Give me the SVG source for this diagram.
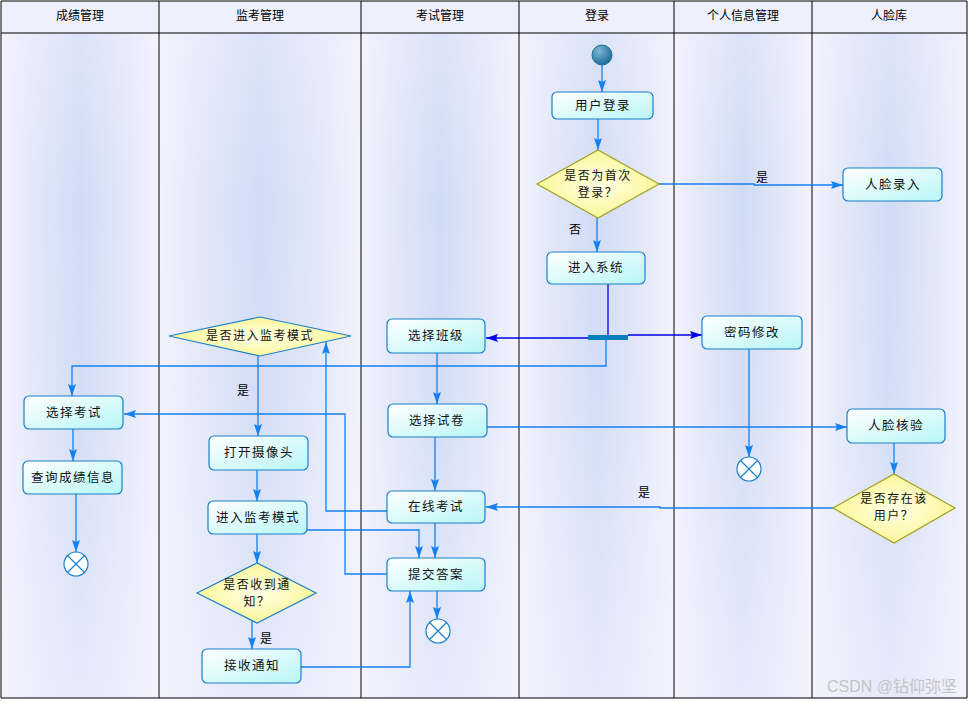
<svg xmlns="http://www.w3.org/2000/svg" width="969" height="702" viewBox="0 0 969 702">
<defs>
<linearGradient id="laneBg" x1="0" y1="0" x2="1" y2="0">
<stop offset="0" stop-color="#f3f3fd"/>
<stop offset="0.18" stop-color="#e4e9f9"/>
<stop offset="0.5" stop-color="#d0dbf5"/>
<stop offset="0.82" stop-color="#e4e9f9"/>
<stop offset="1" stop-color="#f3f3fd"/>
</linearGradient>
<linearGradient id="laneFade" x1="0" y1="0" x2="0" y2="1">
<stop offset="0" stop-color="#f3f3fd" stop-opacity="0.35"/>
<stop offset="0.25" stop-color="#f3f3fd" stop-opacity="0"/>
<stop offset="0.55" stop-color="#f3f3fd" stop-opacity="0.1"/>
<stop offset="1" stop-color="#f3f3fd" stop-opacity="0.6"/>
</linearGradient>
<linearGradient id="nodeFill" x1="0" y1="0" x2="1" y2="1">
<stop offset="0" stop-color="#ffffff"/>
<stop offset="1" stop-color="#b8f6f6"/>
</linearGradient>
<radialGradient id="decFill" cx="0.5" cy="0.5" r="0.6">
<stop offset="0" stop-color="#ffffe6"/>
<stop offset="1" stop-color="#fbf58a"/>
</radialGradient>
<radialGradient id="startFill" cx="0.35" cy="0.3" r="0.7">
<stop offset="0" stop-color="#7fb8d6"/>
<stop offset="1" stop-color="#1f6f99"/>
</radialGradient>
<marker id="arr" viewBox="0 0 12 10" refX="12" refY="5" markerWidth="12" markerHeight="10" markerUnits="userSpaceOnUse" orient="auto">
<path d="M0,1 L12,5 L0,9 L2,5 Z" fill="#1580f0"/>
</marker>
<marker id="arrD" viewBox="0 0 12 10" refX="12" refY="5" markerWidth="12" markerHeight="10" markerUnits="userSpaceOnUse" orient="auto">
<path d="M0,1 L12,5 L0,9 L2,5 Z" fill="#0000ee"/>
</marker>
</defs>
<style>
.lane{fill:url(#laneBg);stroke:none}
.fade{fill:url(#laneFade);stroke:none}
.hdr{fill:#eef0fb}
.sep{stroke:#000;stroke-width:1;fill:none}
.ht{font-family:"Noto Sans CJK SC","Liberation Sans",sans-serif;font-size:12px;fill:#000;text-anchor:middle}
.node rect{fill:url(#nodeFill);stroke:#1a80c8;stroke-width:1.2}
.dec polygon{fill:url(#decFill);stroke:#1a80c8;stroke-width:1.2}
.dec.olive polygon{stroke:#a0a020}
.t{font-family:"Noto Sans CJK SC","Liberation Sans",sans-serif;font-size:12.5px;fill:#111;text-anchor:middle;letter-spacing:1.5px}
.t2{font-family:"Noto Sans CJK SC","Liberation Sans",sans-serif;font-size:12px;fill:#111;text-anchor:middle;letter-spacing:1.5px}
.lbl{font-family:"Noto Sans CJK SC","Liberation Sans",sans-serif;font-size:12px;fill:#000;text-anchor:middle}
.end circle{fill:#fff;stroke:#1a80c8;stroke-width:1.2}
.end path{stroke:#1a80c8;stroke-width:1.2;fill:none}
.c{fill:none;stroke:#1580f0;stroke-width:1.3;marker-end:url(#arr)}
.cd{fill:none;stroke:#0000ee;stroke-width:1.3;marker-end:url(#arrD)}
.cdn{fill:none;stroke:#0000ee;stroke-width:1.3}
</style>
<rect x="0" y="0" width="969" height="702" fill="#ffffff"/>
<g id="lanes">
<rect class="lane" x="1" y="33" width="158" height="665"/>
<rect class="lane" x="159" y="33" width="202" height="665"/>
<rect class="lane" x="361" y="33" width="158" height="665"/>
<rect class="lane" x="519" y="33" width="155" height="665"/>
<rect class="lane" x="674" y="33" width="138" height="665"/>
<rect class="lane" x="812" y="33" width="155" height="665"/>
<rect class="fade" x="1" y="33" width="966" height="665"/>
<rect class="hdr" x="1" y="1" width="966" height="32"/>
<path class="sep" d="M1,1 H967 V698 H1 Z M1,33 H967 M159,1 V698 M361,1 V698 M519,1 V698 M674,1 V698 M812,1 V698"/>
<text class="ht" x="80" y="20">成绩管理</text>
<text class="ht" x="260" y="20">监考管理</text>
<text class="ht" x="440" y="20">考试管理</text>
<text class="ht" x="597" y="20">登录</text>
<text class="ht" x="743" y="20">个人信息管理</text>
<text class="ht" x="889" y="20">人脸库</text>
</g>
<g id="connectors">
<path class="c" d="M602,65 V92"/>
<path class="c" d="M598,119 V150"/>
<path class="c" d="M597,218 V252"/>
<path class="c" d="M659,184 H754 V185 H843"/>
<path class="cdn" d="M608,284 V335"/>
<path class="cd" d="M590,338 H486"/>
<path class="cd" d="M628,335 H702"/>
<path class="c" d="M606,340 V366 H72 V396"/>
<path class="c" d="M749,349 V457"/>
<path class="c" d="M437,353 V404"/>
<path class="c" d="M487,427 H847"/>
<path class="c" d="M894,443 V474"/>
<path class="c" d="M833,508 H660 V507 H486"/>
<path class="c" d="M435,437 V491"/>
<path class="c" d="M435,523 V558"/>
<path class="c" d="M387,511 H326 V342"/>
<path class="c" d="M387,574 H345 V414 H124"/>
<path class="c" d="M258,356 V436"/>
<path class="c" d="M257,470 V501"/>
<path class="c" d="M257,534 V563"/>
<path class="c" d="M307,530 H419 V558"/>
<path class="c" d="M252,621 V649"/>
<path class="c" d="M301,667 H410 V591"/>
<path class="c" d="M437,591 V619"/>
<path class="c" d="M76,494 V552"/>
<path class="c" d="M73,429 V461"/>
<rect x="588" y="335" width="40" height="5" fill="#0a7fc0"/>
<text class="lbl" x="762" y="182">是</text>
<text class="lbl" x="575" y="234">否</text>
<text class="lbl" x="243" y="395">是</text>
<text class="lbl" x="644" y="497">是</text>
<text class="lbl" x="266" y="643">是</text>
</g>
<g id="start"><circle cx="602" cy="55" r="10" fill="url(#startFill)" stroke="#1a6f99" stroke-width="1"/></g>
<g id="n-userlogin" class="node"><rect x="552" y="92" width="101" height="27" rx="5"/><text class="t" x="603" y="110">用户登录</text></g>
<g id="d-firstlogin" class="dec olive"><polygon points="537,184 598,150 659,184 598,218"/><text class="t2" x="598" y="180">是否为首次</text><text class="t2" x="598" y="197">登录？</text></g>
<g id="n-entersys" class="node"><rect x="547" y="252" width="98" height="32" rx="5"/><text class="t" x="596" y="272">进入系统</text></g>
<g id="n-faceenroll" class="node"><rect x="843" y="168" width="99" height="33" rx="5"/><text class="t" x="893" y="189">人脸录入</text></g>
<g id="n-pwd" class="node"><rect x="702" y="316" width="100" height="33" rx="5"/><text class="t" x="752" y="337">密码修改</text></g>
<g id="e-pwd" class="end"><circle cx="749" cy="469" r="12"/><path d="M740.5,460.5 L757.5,477.5 M757.5,460.5 L740.5,477.5"/></g>
<g id="n-class" class="node"><rect x="387" y="319" width="98" height="34" rx="5"/><text class="t" x="436" y="340">选择班级</text></g>
<g id="n-paper" class="node"><rect x="388" y="404" width="99" height="33" rx="5"/><text class="t" x="437" y="425">选择试卷</text></g>
<g id="n-facecheck" class="node"><rect x="847" y="409" width="98" height="34" rx="5"/><text class="t" x="896" y="430">人脸核验</text></g>
<g id="d-userexist" class="dec olive"><polygon points="833,508 894,474 955,508 894,543"/><text class="t2" x="894" y="503">是否存在该</text><text class="t2" x="894" y="520">用户？</text></g>
<g id="n-online" class="node"><rect x="387" y="491" width="98" height="32" rx="5"/><text class="t" x="436" y="511">在线考试</text></g>
<g id="n-submit" class="node"><rect x="387" y="558" width="98" height="33" rx="5"/><text class="t" x="436" y="579">提交答案</text></g>
<g id="e-submit" class="end"><circle cx="438" cy="631" r="12"/><path d="M429.5,622.5 L446.5,639.5 M446.5,622.5 L429.5,639.5"/></g>
<g id="d-monitor" class="dec"><polygon points="169,336 260,317 351,336 260,356"/><text class="t2" x="260" y="340">是否进入监考模式</text></g>
<g id="n-camera" class="node"><rect x="209" y="436" width="99" height="34" rx="5"/><text class="t" x="259" y="457">打开摄像头</text></g>
<g id="n-monmode" class="node"><rect x="208" y="501" width="99" height="33" rx="5"/><text class="t" x="258" y="522">进入监考模式</text></g>
<g id="d-notice" class="dec"><polygon points="197,593 257,563 316,593 257,623"/><text class="t2" x="257" y="589">是否收到通</text><text class="t2" x="257" y="606">知？</text></g>
<g id="n-recv" class="node"><rect x="202" y="649" width="99" height="34" rx="5"/><text class="t" x="252" y="670">接收通知</text></g>
<g id="n-selexam" class="node"><rect x="24" y="396" width="99" height="33" rx="5"/><text class="t" x="74" y="417">选择考试</text></g>
<g id="n-query" class="node"><rect x="23" y="461" width="99" height="33" rx="5"/><text class="t" x="73" y="482">查询成绩信息</text></g>
<g id="e-query" class="end"><circle cx="76" cy="564" r="12"/><path d="M67.5,555.5 L84.5,572.5 M84.5,555.5 L67.5,572.5"/></g>
<text x="892" y="692" font-family="'Liberation Sans','Noto Sans CJK SC',sans-serif" font-size="16" fill="#c4c4c4" text-anchor="middle">CSDN @钻仰弥坚</text>
</svg>
